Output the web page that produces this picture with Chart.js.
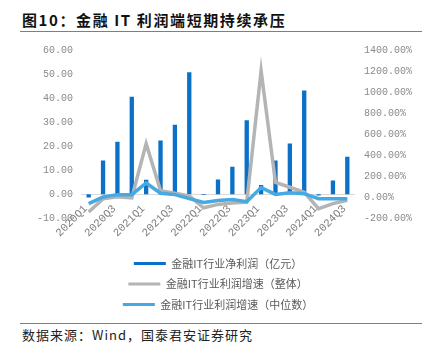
<!DOCTYPE html>
<html>
<head>
<meta charset="utf-8">
<script src="https://cdn.jsdelivr.net/npm/chart.js@4/dist/chart.umd.min.js"></script>
<style>
  html, body { margin: 0; padding: 0; background: #fff; }
  #page { position: relative; width: 432px; height: 355px; overflow: hidden; }
  #title {
    position: absolute; left: 22px; top: 9px; letter-spacing: 1.6px;
    font: bold 15px "Noto Sans CJK SC", sans-serif; color: #111; white-space: nowrap;
  }
  .rule { position: absolute; left: 20px; width: 402px; height: 1px; background: #7f7f7f; }
  #wrap { position: absolute; left: 0; top: 32px; width: 432px; height: 290px; }
  #source {
    position: absolute; left: 22px; top: 325px; letter-spacing: 1px;
    font: 13px "Noto Sans CJK SC", sans-serif; color: #222; white-space: nowrap;
  }
</style>
</head>
<body>
<div id="page">
  <div id="title">图10：金融 IT 利润端短期持续承压</div>
  <div class="rule" style="top:31px"></div>
  <div id="wrap"><canvas id="chart"></canvas></div>
  <div class="rule" style="top:323px"></div>
  <div id="source">数据来源：Wind，国泰君安证券研究</div>
</div>
<script>
// quarters on the category axis
const quarters = [
  "2020Q1", "2020Q2", "2020Q3", "2020Q4",
  "2021Q1", "2021Q2", "2021Q3", "2021Q4",
  "2022Q1", "2022Q2", "2022Q3", "2022Q4",
  "2023Q1", "2023Q2", "2023Q3", "2023Q4",
  "2024Q1", "2024Q2", "2024Q3",
];

// 金融IT行业净利润（亿元）, left axis
const netProfit = [
  -1.4, 14.0, 21.8, 40.6,
  6.0, 22.4, 28.9, 50.7,
  -0.3, 6.1, 11.4, 30.8,
  3.9, 14.0, 21.1, 43.2,
  -0.5, 5.7, 15.6,
];

// 利润增速（整体）, right axis, %
const growthTotal = [
  -140, -15, 5, -5,
  510, 63, 38, 13,
  -100, -68, -55, -45,
  1203, 140, 95, 47,
  -108, -60, -28,
];

// 利润增速（中位数）, right axis, %
const growthMedian = [
  -60, 2, 25, 25,
  136, 38, 25, -13,
  -50, -30, -22, -42,
  92, 27, 42, 34,
  -13, -14, -14,
];

const seriesNames = [
  "金融IT行业净利润（亿元）",
  "金融IT行业利润增速（整体）",
  "金融IT行业利润增速（中位数）",
];

const tickFont = { family: "Liberation Mono", size: 10 };
const tickColor = "#8a8a8a";

new Chart(document.getElementById("chart"), {
  type: "bar",
  data: {
    labels: quarters,
    datasets: [
      {
        type: "bar",
        label: seriesNames[0],
        data: netProfit,
        yAxisID: "y",
        backgroundColor: "#0a70c8",
        borderWidth: 0,
        barPercentage: 0.3,
        categoryPercentage: 1,
        order: 3,
      },
      {
        type: "line",
        label: seriesNames[1],
        data: growthTotal,
        yAxisID: "y1",
        borderColor: "#b4b4b4",
        backgroundColor: "#b4b4b4",
        borderWidth: 3.5,
        pointRadius: 0,
        tension: 0,
        order: 2,
      },
      {
        type: "line",
        label: seriesNames[2],
        data: growthMedian,
        yAxisID: "y1",
        borderColor: "#46a9e2",
        backgroundColor: "#46a9e2",
        borderWidth: 3.5,
        pointRadius: 0,
        tension: 0,
        order: 1,
      },
    ],
  },
  options: {
    responsive: true,
    maintainAspectRatio: false,
    animation: false,
    layout: { padding: { top: 18, bottom: 2 } },
    plugins: {
      tooltip: { enabled: false },
      legend: {
        position: "bottom",
        fullSize: false,
        // empty title only used as a spacer for the rotated quarter labels
        title: { display: true, text: "", font: { size: 1 }, padding: { top: 29, bottom: 0 } },
        labels: {
          boxWidth: 32,
          boxHeight: 3,
          padding: 9.5,
          color: "#595959",
          font: { family: "Noto Sans CJK SC", size: 11 },
          sort: (a, b) => a.datasetIndex - b.datasetIndex,
          generateLabels(chart) {
            const items = Chart.defaults.plugins.legend.labels.generateLabels(chart);
            return items.map((it) => ({ ...it, lineWidth: 0 }));
          },
        },
      },
    },
    scales: {
      x: {
        position: { y: 0 },
        grid: { display: false, drawTicks: false },
        border: { display: true, color: "#d9d9d9", width: 1 },
        ticks: {
          color: "#808080",
          font: { family: "Liberation Mono", size: 11 },
          autoSkip: false,
          minRotation: 45,
          maxRotation: 45,
          padding: 8,
          labelOffset: -3,
          callback: (v, i) => (i % 2 === 0 ? quarters[i] : ""),
        },
        afterFit(scale) {
          scale.height = 0;
        },
      },
      y: {
        position: "left",
        min: -10,
        max: 60,
        grid: { display: false, drawTicks: false },
        border: { display: false },
        ticks: {
          stepSize: 10,
          color: tickColor,
          font: tickFont,
          padding: 8.5,
          callback: (v) => v.toFixed(2),
        },
        afterFit(scale) {
          scale.width = 81.5;
        },
      },
      y1: {
        position: "right",
        min: -200,
        max: 1400,
        grid: { display: false, drawTicks: false },
        border: { display: false },
        ticks: {
          stepSize: 200,
          color: tickColor,
          font: tickFont,
          padding: 9.5,
          callback: (v) => v.toFixed(2) + "%",
        },
        afterFit(scale) {
          scale.width = 77.5;
        },
      },
    },
  },
});
</script>
</body>
</html>
